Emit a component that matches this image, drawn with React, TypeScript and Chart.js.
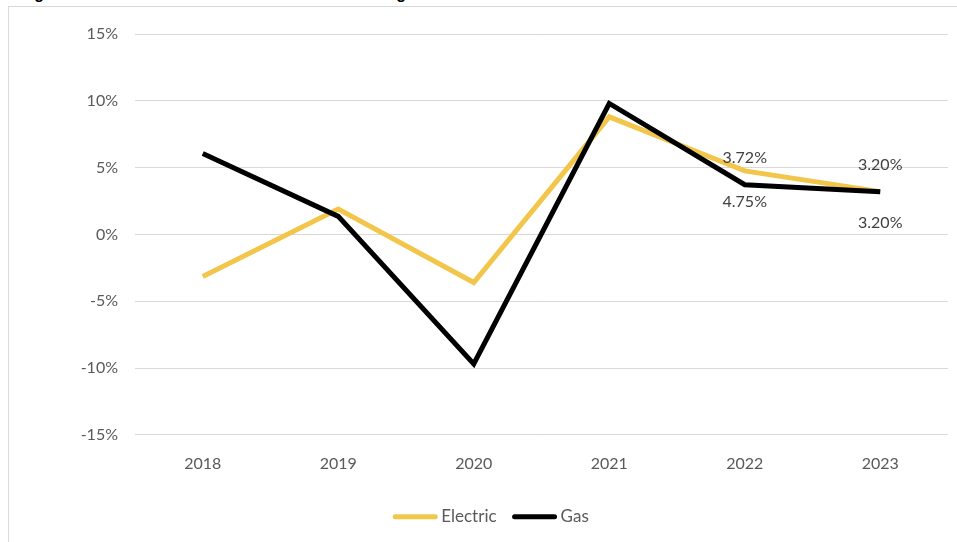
import React, { useEffect, useRef } from "react";
import { Chart, registerables } from "chart.js";

Chart.register(...registerables);

const years = ["2018", "2019", "2020", "2021", "2022", "2023"];
const electricChange = [-3.15, 1.9, -3.6, 8.8, 4.75, 3.2];
const gasChange = [6.05, 1.35, -9.7, 9.8, 3.72, 3.2];
const yTicks = [-15, -10, -5, 0, 5, 10, 15];
// only the last two years carry value labels
const labelledYears = ["2022", "2023"];

const FONT = "Lato, 'Open Sans', sans-serif";
const ELECTRIC = "#F2C64A";
const GAS = "#000000";

const valueLabels = {
  id: "valueLabels",
  afterDatasetsDraw(chart: any) {
    const ctx = chart.ctx;
    ctx.save();
    ctx.font = `16px ${FONT}`;
    ctx.fillStyle = "#404040";
    ctx.textAlign = "center";
    ctx.textBaseline = "middle";
    chart.data.datasets.forEach((ds: any, di: number) => {
      const meta = chart.getDatasetMeta(di);
      meta.data.forEach((pt: any, i: number) => {
        if (!labelledYears.includes(chart.data.labels[i])) return;
        const v = ds.data[i] as number;
        // Gas labels sit above the line, Electric labels below
        const dy = ds.label === "Gas" ? -27 : 31;
        ctx.fillText(v.toFixed(2) + "%", pt.x, pt.y + dy);
      });
    });
    ctx.restore();
  },
};

// Line-swatch legend centred under the plot, drawn in dataset order
const lineLegend = {
  id: "lineLegend",
  afterDraw(chart: any) {
    const ctx = chart.ctx;
    const swatch = 44;
    const textGap = 4;
    const itemGap = 16;
    const centerX = 491;
    const y = chart.chartArea.bottom + 82;
    ctx.save();
    ctx.font = `17px ${FONT}`;
    ctx.textBaseline = "middle";
    ctx.textAlign = "left";
    const items = chart.data.datasets.map((ds: any) => ({
      label: ds.label,
      color: ds.borderColor,
      w: swatch + textGap + ctx.measureText(ds.label).width,
    }));
    const total =
      items.reduce((s: number, it: any) => s + it.w, 0) +
      itemGap * (items.length - 1);
    let x = centerX - total / 2;
    items.forEach((it: any) => {
      ctx.strokeStyle = it.color;
      ctx.lineWidth = 5;
      ctx.lineCap = "round";
      ctx.beginPath();
      ctx.moveTo(x + 2, y);
      ctx.lineTo(x + swatch - 2, y);
      ctx.stroke();
      ctx.fillStyle = "#595959";
      ctx.fillText(it.label, x + swatch + textGap, y);
      x += it.w + itemGap;
    });
    ctx.restore();
  },
};

export default function App() {
  const canvasRef = useRef<HTMLCanvasElement | null>(null);

  useEffect(() => {
    const canvas = canvasRef.current;
    if (!canvas) return;
    const chart = new Chart(canvas, {
      type: "line",
      data: {
        labels: years,
        datasets: [
          {
            label: "Electric",
            data: electricChange,
            borderColor: ELECTRIC,
            backgroundColor: ELECTRIC,
            borderWidth: 5,
            pointRadius: 0,
            tension: 0,
            order: 1,
          },
          {
            label: "Gas",
            data: gasChange,
            borderColor: GAS,
            backgroundColor: GAS,
            borderWidth: 5,
            pointRadius: 0,
            tension: 0,
            order: 0,
          },
        ],
      },
      options: {
        animation: false,
        responsive: false,
        layout: { padding: { left: 8, right: 9, top: 34, bottom: 58 } },
        scales: {
          x: {
            offset: true,
            grid: { display: false },
            border: { display: false },
            ticks: {
              color: "#595959",
              font: { family: FONT, size: 16 },
              padding: 11,
            },
          },
          y: {
            min: -15,
            max: 15,
            afterFit: (s: any) => {
              s.width = 127;
            },
            afterBuildTicks: (s: any) => {
              s.ticks = yTicks.map((v) => ({ value: v }));
            },
            grid: { color: "#D9D9D9", lineWidth: 1, drawTicks: false },
            border: { display: false },
            ticks: {
              color: "#595959",
              font: { family: FONT, size: 16 },
              padding: 17,
              callback: (v: any) => `${v}%`,
            },
          },
        },
        plugins: {
          legend: { display: false },
          tooltip: { enabled: false },
        },
      },
      plugins: [valueLabels, lineLegend],
    });
    return () => chart.destroy();
  }, []);

  return (
    <div
      style={{
        position: "fixed",
        left: 0,
        top: 0,
        width: 957,
        height: 542,
        overflow: "hidden",
        background: "#fff",
      }}
    >
      <div
        style={{
          position: "absolute",
          left: 20,
          top: -15,
          whiteSpace: "nowrap",
          font: "bold 16px Arial, 'Liberation Sans', sans-serif",
          color: "#000",
        }}
      >
        Figure 2: Historical Annual Residential Rate Change
      </div>
      <div
        style={{
          position: "absolute",
          left: 8,
          top: 6,
          width: 960,
          height: 560,
          border: "1px solid #D9D9D9",
          boxSizing: "border-box",
        }}
      />
      <canvas
        ref={canvasRef}
        width={957}
        height={542}
        style={{ position: "absolute", left: 0, top: 0 }}
      />
    </div>
  );
}
